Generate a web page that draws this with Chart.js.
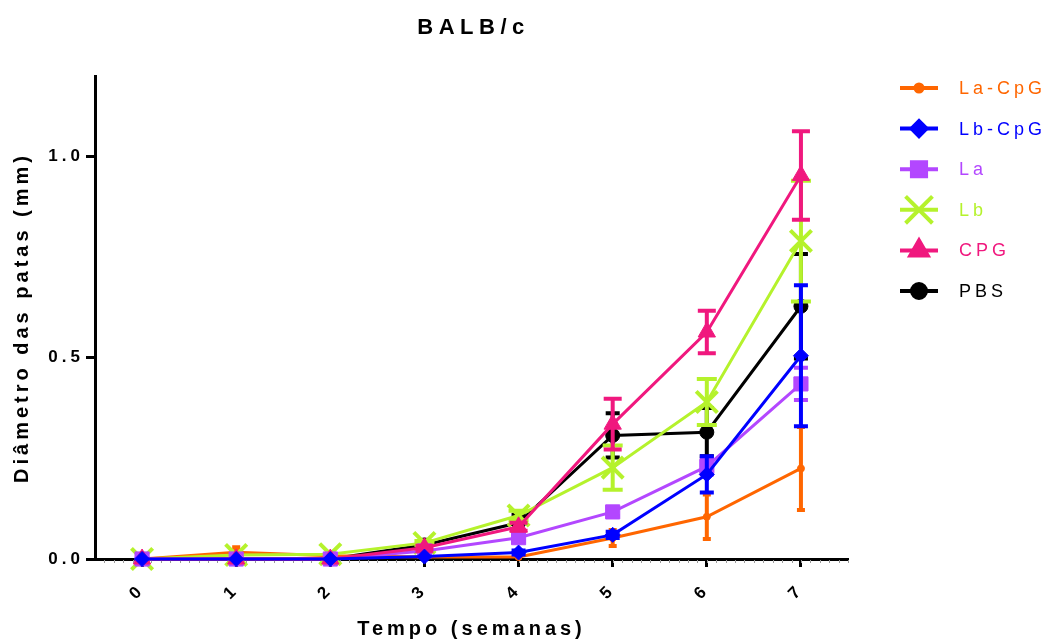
<!DOCTYPE html>
<html>
<head>
<meta charset="utf-8">
<title>BALB/c</title>
<script src="https://cdn.jsdelivr.net/npm/chart.js"></script>
<style>
  html, body { margin: 0; padding: 0; background: #fff; }
  #wrap { width: 1043px; height: 641px; }
</style>
</head>
<body>
<div id="wrap"><canvas id="pawChart" width="1043" height="641"></canvas></div>
<script>
// --- DATA ---
const weeks = [0, 1, 2, 3, 4, 5, 6, 7];
const yTicks = [0, 0.5, 1.0];

const seriesNames = ['La-CpG', 'Lb-CpG', 'La', 'Lb', 'CPG', 'PBS'];

const laCpgMean = [0, 0.017, 0.008, 0.005, 0.005, 0.052, 0.105, 0.225];
const laCpgSd   = [0, 0.012, 0, 0, 0, 0.02, 0.055, 0.103];

const lbCpgMean = [0, 0, 0, 0.006, 0.016, 0.06, 0.21, 0.505];
const lbCpgSd   = [0, 0, 0, 0, 0.005, 0.008, 0.045, 0.175];

const laMean = [0, 0, 0, 0.02, 0.053, 0.117, 0.23, 0.435];
const laSd   = [0, 0, 0, 0.005, 0.008, 0.01, 0.02, 0.04];

const lbMean = [0, 0.01, 0.012, 0.04, 0.108, 0.227, 0.39, 0.79];
const lbSd   = [0, 0, 0, 0.005, 0.012, 0.055, 0.057, 0.15];

const cpgMean = [0, 0, 0, 0.028, 0.08, 0.335, 0.564, 0.953];
const cpgSd   = [0, 0, 0, 0.005, 0.01, 0.063, 0.053, 0.11];

const pbsMean = [0, 0, 0, 0.035, 0.09, 0.307, 0.315, 0.628];
const pbsSd   = [0, 0, 0, 0.005, 0.02, 0.055, 0.06, 0.13];

// --- STYLE ---
const FONT = '"Liberation Sans", Arial, Helvetica, sans-serif';

const styles = [
    { color: '#FF6600', pointStyle: 'circle',   radius: 3.5, capHalf: 4,  order: 4 },
    { color: '#0000FF', pointStyle: 'rectRot',  radius: 7.5, capHalf: 7,  order: 0 },
    { color: '#B347FF', pointStyle: 'rect',     radius: 10,  capHalf: 7,  order: 2 },
    { color: '#B5F22C', pointStyle: 'crossRot', radius: 15,  capHalf: 10, order: 3 },
    { color: '#F0187E', pointStyle: 'triangle', radius: 10,  capHalf: 9,  order: 1 },
    { color: '#000000', pointStyle: 'circle',   radius: 7,   capHalf: 7,  order: 5 }
];

const means = [laCpgMean, lbCpgMean, laMean, lbMean, cpgMean, pbsMean];
const sds   = [laCpgSd, lbCpgSd, laSd, lbSd, cpgSd, pbsSd];

function buildDatasets() {
    return seriesNames.map((name, k) => {
        const s = styles[k];
        return {
            label: name,
            data: weeks.map((w, i) => ({ x: w, y: means[k][i] })),
            sd: sds[k],
            capHalf: s.capHalf,
            borderColor: s.color,
            backgroundColor: s.color,
            borderWidth: 3,
            pointStyle: s.pointStyle,
            pointRadius: s.radius,
            pointBackgroundColor: s.color,
            pointBorderColor: s.color,
            pointBorderWidth: s.pointStyle === 'crossRot' ? 4 : 1,
            tension: 0,
            clip: false,
            order: s.order
        };
    });
}

// --- PLUGINS ---
// spaced-out lettering like the original GraphPad export
const spacingPlugin = {
    id: 'spacing',
    beforeDraw(chart) {
        chart.ctx.letterSpacing = '4px';
    }
};

// error bars (mean +/- SD), drawn under each series' markers
const errorBarPlugin = {
    id: 'errorBars',
    beforeDatasetDraw(chart, args) {
        const ds = chart.data.datasets[args.index];
        const yScale = chart.scales.y;
        const ctx = chart.ctx;
        ctx.save();
        ctx.strokeStyle = ds.borderColor;
        ctx.lineWidth = 4;
        args.meta.data.forEach((pt, i) => {
            const sd = ds.sd[i];
            if (!sd) return;
            const v = ds.data[i].y;
            const top = yScale.getPixelForValue(v + sd);
            const bot = yScale.getPixelForValue(v - sd);
            ctx.beginPath();
            ctx.moveTo(pt.x, top);
            ctx.lineTo(pt.x, bot);
            ctx.moveTo(pt.x - ds.capHalf, top);
            ctx.lineTo(pt.x + ds.capHalf, top);
            ctx.moveTo(pt.x - ds.capHalf, bot);
            ctx.lineTo(pt.x + ds.capHalf, bot);
            ctx.stroke();
        });
        ctx.restore();
    }
};

// small grey minor ticks under the x axis
const minorTickPlugin = {
    id: 'minorTicks',
    beforeDatasetsDraw(chart) {
        const x = chart.scales.x;
        const ctx = chart.ctx;
        const y0 = chart.chartArea.bottom + 1;
        ctx.save();
        ctx.strokeStyle = '#9a9a9a';
        ctx.lineWidth = 1;
        for (let v = -0.4; v < 7.5; v += 0.1) {
            const px = Math.round(x.getPixelForValue(v)) + 0.5;
            ctx.beginPath();
            ctx.moveTo(px, y0);
            ctx.lineTo(px, y0 + 3);
            ctx.stroke();
        }
        ctx.restore();
    }
};

// chart title centred over the plot area, and the legend on the right
const titleLegendPlugin = {
    id: 'titleLegend',
    afterDraw(chart) {
        const ctx = chart.ctx;
        const area = chart.chartArea;
        ctx.save();
        ctx.letterSpacing = '5.5px';
        ctx.fillStyle = '#000';
        ctx.font = 'bold 22px ' + FONT;
        ctx.textAlign = 'center';
        ctx.textBaseline = 'middle';
        ctx.fillText('BALB/c', (area.left + area.right) / 2 + 2, 28);

        ctx.letterSpacing = '4px';
        ctx.font = '18px ' + FONT;
        ctx.textAlign = 'left';
        chart.data.datasets.forEach((ds, k) => {
            const y = 88 + k * 40.6;
            ctx.strokeStyle = ds.borderColor;
            ctx.fillStyle = ds.borderColor;
            ctx.lineWidth = 4;
            ctx.beginPath();
            ctx.moveTo(900, y);
            ctx.lineTo(938, y);
            ctx.stroke();
            const isCross = ds.pointStyle === 'crossRot';
            if (Chart.helpers && Chart.helpers.drawPoint) {
                Chart.helpers.drawPoint(ctx, {
                    pointStyle: ds.pointStyle,
                    radius: isCross ? 19 : ds.pointRadius,
                    rotation: 0,
                    borderWidth: isCross ? 5 : 1
                }, 919, y);
            }
            ctx.fillText(ds.label, 959, y + 1);
        });
        ctx.restore();
    }
};

// --- CHART ---
function initChart() {
    const ctx = document.getElementById('pawChart').getContext('2d');
    return new Chart(ctx, {
        type: 'line',
        data: { datasets: buildDatasets() },
        options: {
            responsive: false,
            animation: false,
            layout: { padding: { top: 76, right: 195, left: 0, bottom: 0 } },
            plugins: {
                legend: { display: false },
                title: { display: false },
                tooltip: { enabled: false }
            },
            scales: {
                x: {
                    type: 'linear',
                    min: -0.5,
                    max: 7.5,
                    afterBuildTicks: (scale) => { scale.ticks = weeks.map(v => ({ value: v })); },
                    afterFit: (scale) => { scale.height = 82; },
                    border: { display: true, color: '#000', width: 3 },
                    grid: { drawOnChartArea: false, drawTicks: true, tickLength: 8, tickWidth: 3, tickColor: '#000' },
                    ticks: {
                        minRotation: 45, maxRotation: 45,
                        padding: 13,
                        color: '#000',
                        font: { family: FONT, size: 17, weight: 'bold' }
                    },
                    title: {
                        display: true,
                        text: 'Tempo (semanas)',
                        color: '#000',
                        padding: { top: 0, bottom: 0 },
                        font: { family: FONT, size: 20, weight: 'bold' }
                    }
                },
                y: {
                    min: 0,
                    max: 1.2,
                    afterBuildTicks: (scale) => { scale.ticks = yTicks.map(v => ({ value: v })); },
                    afterFit: (scale) => { scale.width = 95; },
                    border: { display: true, color: '#000', width: 3 },
                    grid: { drawOnChartArea: false, drawTicks: true, tickLength: 9, tickWidth: 3, tickColor: '#000' },
                    ticks: {
                        padding: 2,
                        color: '#000',
                        font: { family: FONT, size: 17, weight: 'bold' },
                        callback: (v) => Number(v).toFixed(1)
                    },
                    title: {
                        display: true,
                        text: 'Diâmetro das patas (mm)',
                        color: '#000',
                        padding: { top: 10, bottom: 0 },
                        font: { family: FONT, size: 20, weight: 'bold' }
                    }
                }
            }
        },
        plugins: [spacingPlugin, minorTickPlugin, errorBarPlugin, titleLegendPlugin]
    });
}

window.onload = () => {
    initChart();
};
</script>
</body>
</html>
